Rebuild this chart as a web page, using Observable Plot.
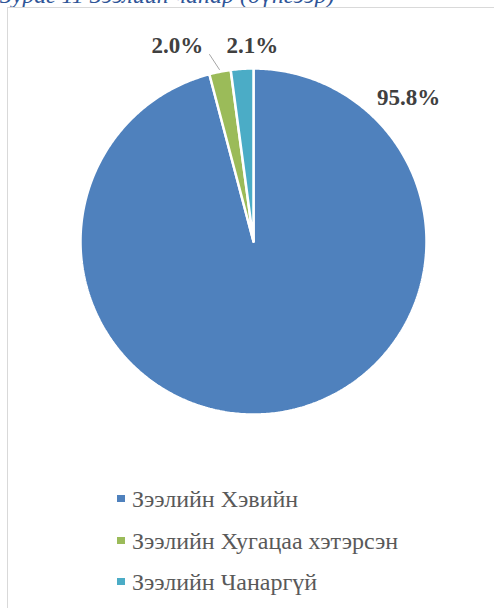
<!DOCTYPE html>
<html>
<head>
<meta charset="utf-8">
<script src="https://cdn.jsdelivr.net/npm/d3@7"></script>
<script src="https://cdn.jsdelivr.net/npm/@observablehq/plot@0.6"></script>
<style>
  body { margin: 0; background: #fff; }
  #wrap { position: relative; width: 494px; height: 608px; overflow: hidden; background: #fff; }
  #title { position: absolute; left: 0; top: -18px; font-family: "Liberation Serif", "Times New Roman", serif; font-style: italic; font-size: 24px; line-height: 1.15; color: #2f5597; white-space: nowrap; }
  #frame { position: absolute; left: 7px; top: 7px; width: 487px; height: 640px; border: 1.5px solid #d9d9d9; box-sizing: border-box; border-right: none; }
  #chart { position: absolute; left: 0; top: 0; }
  #legend { position: absolute; left: 0; top: 0; font-family: "Liberation Serif", "Times New Roman", serif; font-size: 24px; line-height: 1.15; color: #595959; }
  .item { position: absolute; left: 117px; white-space: nowrap; }
  .sw { display: inline-block; width: 8px; height: 7px; margin-right: 7px; vertical-align: 5px; }
</style>
</head>
<body>
<div id="wrap">
  <div id="title">Зураг 11 Зээлийн чанар (дүнгээр)</div>
  <div id="frame"></div>
  <div id="chart"></div>
  <div id="legend"></div>
</div>
<script>
// Data
const categories = ["Зээлийн Хэвийн", "Зээлийн Хугацаа хэтэрсэн", "Зээлийн Чанаргүй"];
const values = [95.8, 2.0, 2.1];
const labels = ["95.8%", "2.0%", "2.1%"];
const colors = ["#4f81bd", "#9bbb59", "#4bacc6"];

// Label placement (data units relative to pie, radius = 1)
const labelX = [0.896, -0.44, -0.006];
const labelY = [0.83, 1.135, 1.135];

const pie = d3.pie().sort(null).value(d => d)(values);

// Build slice polygons in pie coordinates
const slicePts = [];
pie.forEach((p, i) => {
  const n = Math.max(4, Math.ceil((p.endAngle - p.startAngle) / 0.01));
  slicePts.push({cat: categories[i], x: 0, y: 0});
  for (let k = 0; k <= n; k++) {
    const a = p.startAngle + (p.endAngle - p.startAngle) * k / n;
    slicePts.push({cat: categories[i], x: Math.sin(a), y: Math.cos(a)});
  }
  slicePts.push({cat: categories[i], x: 0, y: 0});
});

const labelData = labels.map((t, i) => ({t, x: labelX[i], y: labelY[i]}));
const leader = [{x: -0.254, y: 1.081}, {x: -0.197, y: 0.994}];

const chart = Plot.plot({
  width: 494,
  height: 470,
  margin: 0,
  x: {domain: [-1, 1], range: [80, 426], axis: null},
  y: {domain: [-1, 1], range: [414, 68], axis: null},
  color: {domain: categories, range: colors},
  style: {background: "transparent", overflow: "visible"},
  marks: [
    Plot.line(slicePts, {x: "x", y: "y", z: "cat", fill: "cat", stroke: "white", strokeWidth: 2.5, strokeLinejoin: "miter", curve: "linear"}),
    Plot.line(leader, {x: "x", y: "y", stroke: "#a6a6a6", strokeWidth: 1}),
    Plot.text(labelData, {x: "x", y: "y", text: "t", fill: "#404040", fontSize: 23, fontWeight: "bold", fontFamily: "Liberation Serif, Times New Roman, serif", textAnchor: "middle", lineAnchor: "middle"})
  ]
});
document.getElementById("chart").appendChild(chart);

const legend = document.getElementById("legend");
const rowTops = [486, 528, 569];
categories.forEach((c, i) => {
  const d = document.createElement("div");
  d.className = "item";
  d.style.top = rowTops[i] + "px";
  d.innerHTML = `<span class="sw" style="background:${colors[i]}"></span>${c}`;
  legend.appendChild(d);
});
</script>
</body>
</html>
